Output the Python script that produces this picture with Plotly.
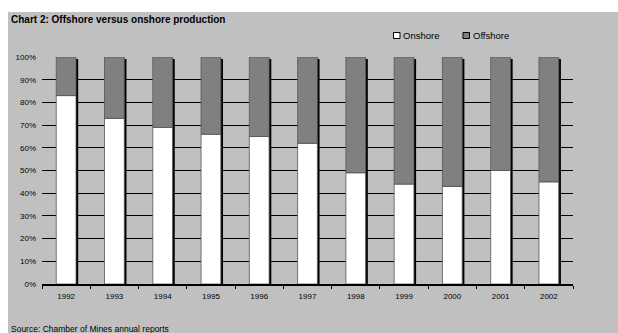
import plotly.graph_objects as go

years = ["1992", "1993", "1994", "1995", "1996", "1997", "1998", "1999", "2000", "2001", "2002"]
onshore = [83, 73, 69, 66, 65, 62, 49, 44, 43, 50, 45]
offshore = [100 - v for v in onshore]

W, H = 618, 333
L, R, T, B = 42, 573, 57, 284  # plot area in pixels
pw, ph = R - L, B - T


def px(x):
    return (x - L) / pw


def py(y):
    return (B - y) / ph


bar_w = 0.41
totals = [a + b for a, b in zip(onshore, offshore)]

fig = go.Figure()

# dark drop-shadow on the right side of each column
fig.add_trace(go.Bar(
    x=years, y=[t - 0.9 for t in totals], base=0,
    width=bar_w, offset=-bar_w / 2 + 0.045,
    marker=dict(color="black", line=dict(width=0)),
    showlegend=False, hoverinfo="skip",
))
fig.add_trace(go.Bar(
    x=years, y=onshore, base=0, name="Onshore",
    width=bar_w, offset=-bar_w / 2,
    marker=dict(color="white", line=dict(color="#555555", width=0.8)),
    showlegend=False,
))
fig.add_trace(go.Bar(
    x=years, y=offshore, base=onshore, name="Offshore",
    width=bar_w, offset=-bar_w / 2,
    marker=dict(color="#808080", line=dict(color="#555555", width=0.8)),
    showlegend=False,
))

shapes = [
    # white page strips above and left of the grey chart panel
    dict(type="rect", xref="paper", yref="paper", layer="below",
         x0=px(-20), x1=px(W + 20), y0=py(12), y1=py(-20),
         fillcolor="white", line=dict(width=0)),
    dict(type="rect", xref="paper", yref="paper", layer="below",
         x0=px(-20), x1=px(8), y0=py(H + 20), y1=py(-20),
         fillcolor="white", line=dict(width=0)),
    # legend keys
    dict(type="rect", xref="paper", yref="paper",
         x0=px(393.5), x1=px(400), y0=py(38.5), y1=py(32.5),
         fillcolor="white", line=dict(color="black", width=1)),
    dict(type="rect", xref="paper", yref="paper",
         x0=px(463), x1=px(469.5), y0=py(38.5), y1=py(32.5),
         fillcolor="#808080", line=dict(color="black", width=1)),
]

annotations = [
    dict(text="<b>Chart 2: Offshore versus onshore production</b>",
         xref="paper", yref="paper", x=px(9), y=py(19),
         xanchor="left", yanchor="middle", showarrow=False,
         font=dict(size=10, color="black")),
    dict(text="Onshore", xref="paper", yref="paper", x=px(401), y=py(35.5),
         xanchor="left", yanchor="middle", showarrow=False,
         font=dict(size=9.5, color="black")),
    dict(text="Offshore", xref="paper", yref="paper", x=px(470.5), y=py(35.5),
         xanchor="left", yanchor="middle", showarrow=False,
         font=dict(size=9.5, color="black")),
    dict(text="Source: Chamber of Mines annual reports",
         xref="paper", yref="paper", x=px(9), y=py(329),
         xanchor="left", yanchor="middle", showarrow=False,
         font=dict(size=8.5, color="black")),
]

fig.update_layout(
    width=W, height=H,
    margin=dict(l=L, r=W - R, t=T, b=H - B, pad=0),
    paper_bgcolor="#C0C0C0",
    plot_bgcolor="#C0C0C0",
    barmode="overlay",
    font=dict(family="Liberation Sans, Arial, sans-serif", color="black"),
    shapes=shapes,
    annotations=annotations,
    xaxis=dict(
        type="category", range=[-0.5, 10.5],
        showline=True, linecolor="black", linewidth=1.5,
        ticks="outside", tickson="boundaries", ticklen=3, tickcolor="black",
        showgrid=False, tickfont=dict(size=8), ticklabelstandoff=4,
    ),
    yaxis=dict(
        range=[0, 100], dtick=10, ticksuffix="%",
        showgrid=True, gridcolor="black", gridwidth=1,
        showline=False, zeroline=False, ticks="",
        tickfont=dict(size=8), ticklabelstandoff=5,
    ),
)

# keep the page exactly the size of the figure (no scrollbars)
page_css = (
    "document.documentElement.style.margin='0';"
    "document.documentElement.style.overflow='hidden';"
    "document.body.style.margin='0';"
    "document.body.style.overflow='hidden';"
    "document.body.style.background='#C0C0C0';"
)
fig.write_html("out.html", post_script=page_css)
